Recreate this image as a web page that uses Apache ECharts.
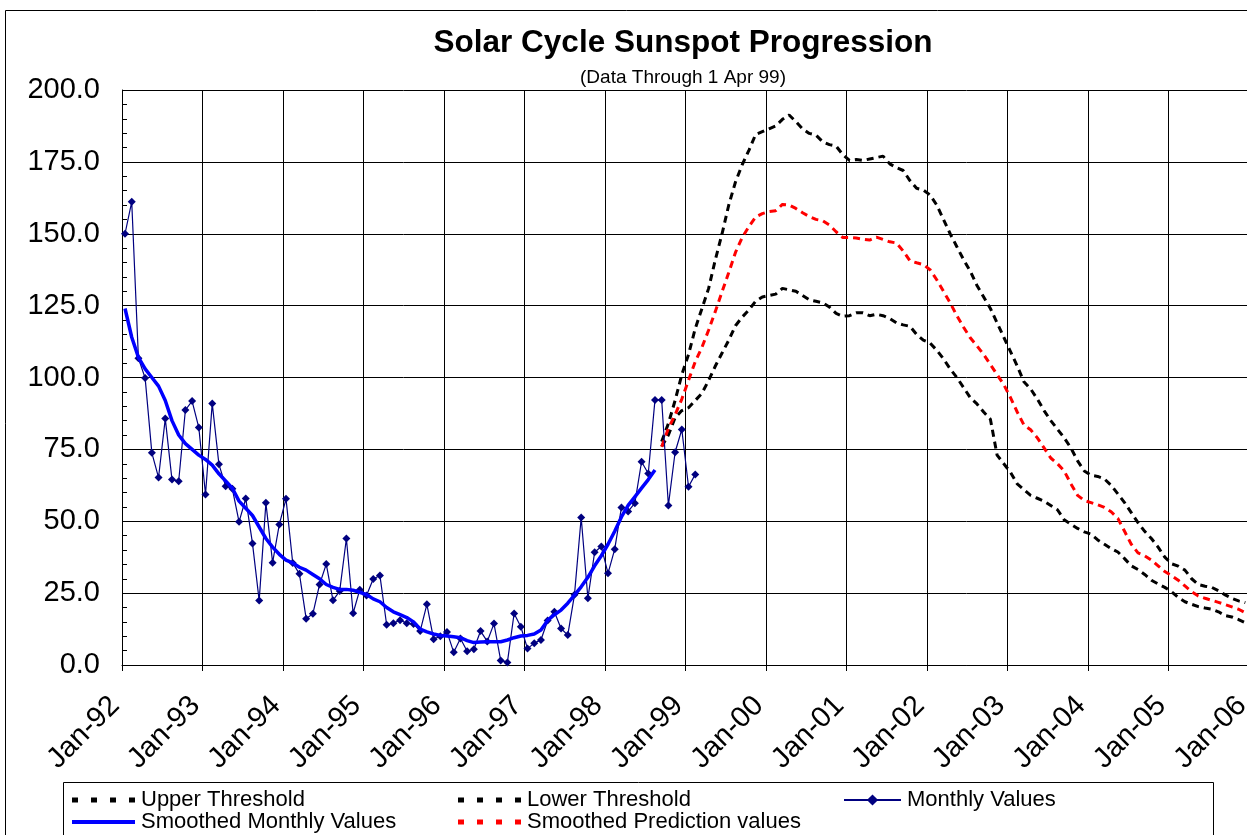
<!DOCTYPE html>
<html>
<head>
<meta charset="utf-8">
<script src="https://cdn.jsdelivr.net/npm/echarts@6/dist/echarts.min.js"></script>
<style>
html,body{margin:0;padding:0;background:#fff;}
#chart{width:1247px;height:835px;}
</style>
</head>
<body>
<div id="chart"></div>
<script>
// ---- data ----
const xTickLabels = ['Jan-92','Jan-93','Jan-94','Jan-95','Jan-96','Jan-97','Jan-98','Jan-99','Jan-00','Jan-01','Jan-02','Jan-03','Jan-04','Jan-05','Jan-06'];
const yTicks = [0,25,50,75,100,125,150,175,200];

// Monthly sunspot numbers, Jan-92 .. Feb-99
const monthlyValues = [150.0,161.1,106.7,99.8,73.8,65.2,85.7,64.5,63.9,88.7,91.8,82.6,
59.3,91.0,69.8,62.2,61.3,49.8,57.9,42.3,22.4,56.4,35.6,48.9,
57.8,35.5,31.7,16.1,17.8,28.0,35.1,22.5,25.7,44.0,18.0,26.2,
24.2,29.9,31.1,14.0,14.5,15.6,14.5,14.3,11.8,21.1,9.0,10.0,
11.5,4.4,9.2,4.8,5.5,11.8,8.2,14.4,1.6,0.9,17.9,13.3,
5.7,7.6,8.7,15.5,18.5,12.7,10.4,24.4,51.3,23.2,39.2,41.2,
31.9,40.3,54.8,53.4,56.3,70.7,66.6,92.2,92.2,55.5,74.0,81.9,
62.0,66.3];

// Smoothed monthly values, Jan-92 .. Aug-98
const smoothedValues = [124,114,107,103,100,97,92,85,80,77,75,73,
71.5,69.5,66.5,64,61.5,57,54.5,52,48,44,41,38.5,
36.5,35.5,34,33,31.5,30,28,27,26.3,26.3,26,25.3,
24.5,23,22,20,18.5,17.5,16.5,15,12.5,11.5,10.8,10.3,
10.1,9.8,9.5,8.5,7.8,8.0,8.1,8.1,8.1,8.7,9.5,10.1,
10.3,10.8,12.2,15.5,17.5,19.1,21.5,24.3,27.2,30.5,34.5,38,
42,46.5,51.5,55.5,58.5,61.5,64.5,67.8];

// Predictions start at Sep-98 (month index 80) through Dec-05
const predStart = 80;
const upperThreshold = [77.7,84,92,101,108,117,124,131,141,150,160,168,174,179,184.5,185.5,
186.5,187.5,189.8,191.3,189,186.5,184.9,184.3,182,181,180.5,177.5,
175.5,175.8,175.5,176,176.5,177,174.3,173,172,168.5,165.8,165.2,
163.5,160,155,150,145.5,141,137,132,128,124,119,114,
109,104,98.5,96,92.5,88.5,85,82,79,75.5,71,67.5,
66,65.6,64.7,62.5,59.5,56.5,53,49.5,46.5,44,41,37.5,
35.2,34.4,33,30,28,27.4,27,25.8,24.4,23.2,22.3,21.7];
const predictionValues = [75.9,82.3,87,92.5,99,105.5,110.5,116.5,123,129.8,136.5,143.5,148.7,152.5,155.8,157,
157.7,158,160.2,160,158.8,157.3,156,155,154.5,153,150.7,148.7,
148.7,148.5,148.1,147.8,148.8,148,147.2,146.8,144,140.6,139.9,139.3,
137.5,134,130,126,121.5,117.5,113.8,111,108,104.5,101,97.5,
93,88,83.5,81.8,79,75.5,72,70,67.5,63,59,57.2,
56.5,55.7,54.8,53.3,51,46.5,42,39,38,36.5,34.5,32.5,
31.1,29.5,27.5,25.5,24,23.2,22.5,21.8,21,20.2,19.4,18.2];
const lowerThreshold = [76,80,86,88.5,89.5,92,94.5,99,104,108.5,113,118,121,123.5,126.5,128,
128.5,129,131,130.5,130,128.5,127,126.5,126,124.5,122.3,121.3,
121.5,122.5,122.5,121.5,122,121.5,120.5,119,118.3,117.8,115,113,
112,109.5,106.5,103,100,96.5,93,90.8,88,85.5,73,70,
67,63,61,59,58,57,55.5,54,50.5,49,47.5,46.3,
45.5,43.5,42,40.5,39.3,37,34.5,33.2,31.5,29.5,28.2,27,
25.5,23.5,22,21.1,20.3,19.8,19.4,18.5,17.2,16.7,15.8,14.7];

// ---- build ----
const MID = 0.45; // values plotted at mid-month
const toXY = (arr, start) => arr.map((v, i) => [start + i + MID, v]);
const FONT = "'Liberation Sans', Arial, sans-serif";
const DASH = [7, 5];
const DOTS_ICON = 'path://M0,0h6v5h-6z M19,0h6v5h-6z M38,0h6v5h-6z M57,0h6v5h-6z';
const BAR_ICON = 'path://M0,0h63v4h-63z';

function legendAt(name, left, top, icon, w) {
  const item = {name: name};
  if (icon) item.icon = icon;
  return {
    left: left, top: top, orient: 'horizontal', itemGap: 0, itemWidth: w || 63, itemHeight: 14,
    padding: 0, selectedMode: false,
    textStyle: {fontFamily: FONT, fontSize: 22, color: '#000', padding: [0, 0, 0, 1]},
    data: [item]
  };
}

const chart = echarts.init(document.getElementById('chart'), null, {renderer: 'canvas'});
const option = {
  backgroundColor: '#fff',
  animation: false,
  title: [
    {text: 'Solar Cycle Sunspot Progression', left: 678, top: 22, textAlign: 'center',
     textStyle: {fontFamily: FONT, fontSize: 31.5, fontWeight: 'bold', color: '#000'}},
    {text: '(Data Through 1 Apr 99)', left: 678, top: 63, textAlign: 'center',
     textStyle: {fontFamily: FONT, fontSize: 19, fontWeight: 'normal', color: '#000'}}
  ],
  grid: {left: 122, width: 1127, top: 90, height: 575, containLabel: false, outerBoundsMode: 'none'},
  xAxis: {
    type: 'value', min: 0, max: 168, interval: 12,
    axisLine: {show: true, lineStyle: {color: '#000', width: 1}},
    axisTick: {show: true, inside: false, length: 6, lineStyle: {color: '#000'}},
    axisLabel: {rotate: 45, margin: 29, padding: [0, 10, 0, 0], fontFamily: FONT, fontSize: 29, color: '#000',
      hideOverlap: false, formatter: v => xTickLabels[Math.round(v / 12)] || ''},
    splitLine: {show: true, lineStyle: {color: '#000', width: 1}}
  },
  yAxis: {
    type: 'value', min: 0, max: 200, interval: 25,
    axisLine: {show: true, lineStyle: {color: '#000', width: 1}},
    axisTick: {show: true, inside: true, length: 6, lineStyle: {color: '#000'}},
    minorTick: {show: true, splitNumber: 5, length: 5, lineStyle: {color: '#000'}},
    axisLabel: {margin: 22, fontFamily: FONT, fontSize: 29, color: '#000',
      formatter: v => (yTicks.indexOf(v) >= 0 ? v.toFixed(1) : '')},
    splitLine: {show: true, lineStyle: {color: '#000', width: 1}}
  },
  legend: [
    legendAt('Upper Threshold', 72, 789, DOTS_ICON),
    legendAt('Lower Threshold', 458, 789, DOTS_ICON),
    legendAt('Monthly Values', 843, 789, null, 57),
    legendAt('Smoothed Monthly Values', 72, 811, BAR_ICON),
    legendAt('Smoothed Prediction values', 458, 811, DOTS_ICON)
  ],
  graphic: [
    {type: 'rect', shape: {x: 5.5, y: 10.5, width: 1300, height: 900}, silent: true,
     style: {fill: null, stroke: '#000', lineWidth: 1}, z: 100},
    {type: 'rect', shape: {x: 63.5, y: 782.5, width: 1150, height: 80}, silent: true,
     style: {fill: null, stroke: '#000', lineWidth: 1}, z: 100}
  ],
  series: [
    {name: 'Upper Threshold', type: 'line', data: toXY(upperThreshold, predStart),
     symbol: 'none', lineStyle: {color: '#000', width: 3, type: DASH}, itemStyle: {color: '#000'}, z: 3},
    {name: 'Lower Threshold', type: 'line', data: toXY(lowerThreshold, predStart),
     symbol: 'none', lineStyle: {color: '#000', width: 3, type: DASH}, itemStyle: {color: '#000'}, z: 3},
    {name: 'Monthly Values', type: 'line', data: toXY(monthlyValues, 0),
     symbol: 'diamond', symbolSize: 8, showSymbol: true,
     lineStyle: {color: '#000080', width: 1.2}, itemStyle: {color: '#000080'}, z: 4},
    {name: 'Smoothed Monthly Values', type: 'line', data: toXY(smoothedValues, 0),
     symbol: 'none', smooth: false, lineStyle: {color: '#0000ff', width: 3.5}, itemStyle: {color: '#0000ff'}, z: 5},
    {name: 'Smoothed Prediction values', type: 'line', data: toXY(predictionValues, predStart),
     symbol: 'none', lineStyle: {color: '#ff0000', width: 3, type: DASH}, itemStyle: {color: '#ff0000'}, z: 3}
  ]
};
chart.setOption(option);
</script>
</body>
</html>
